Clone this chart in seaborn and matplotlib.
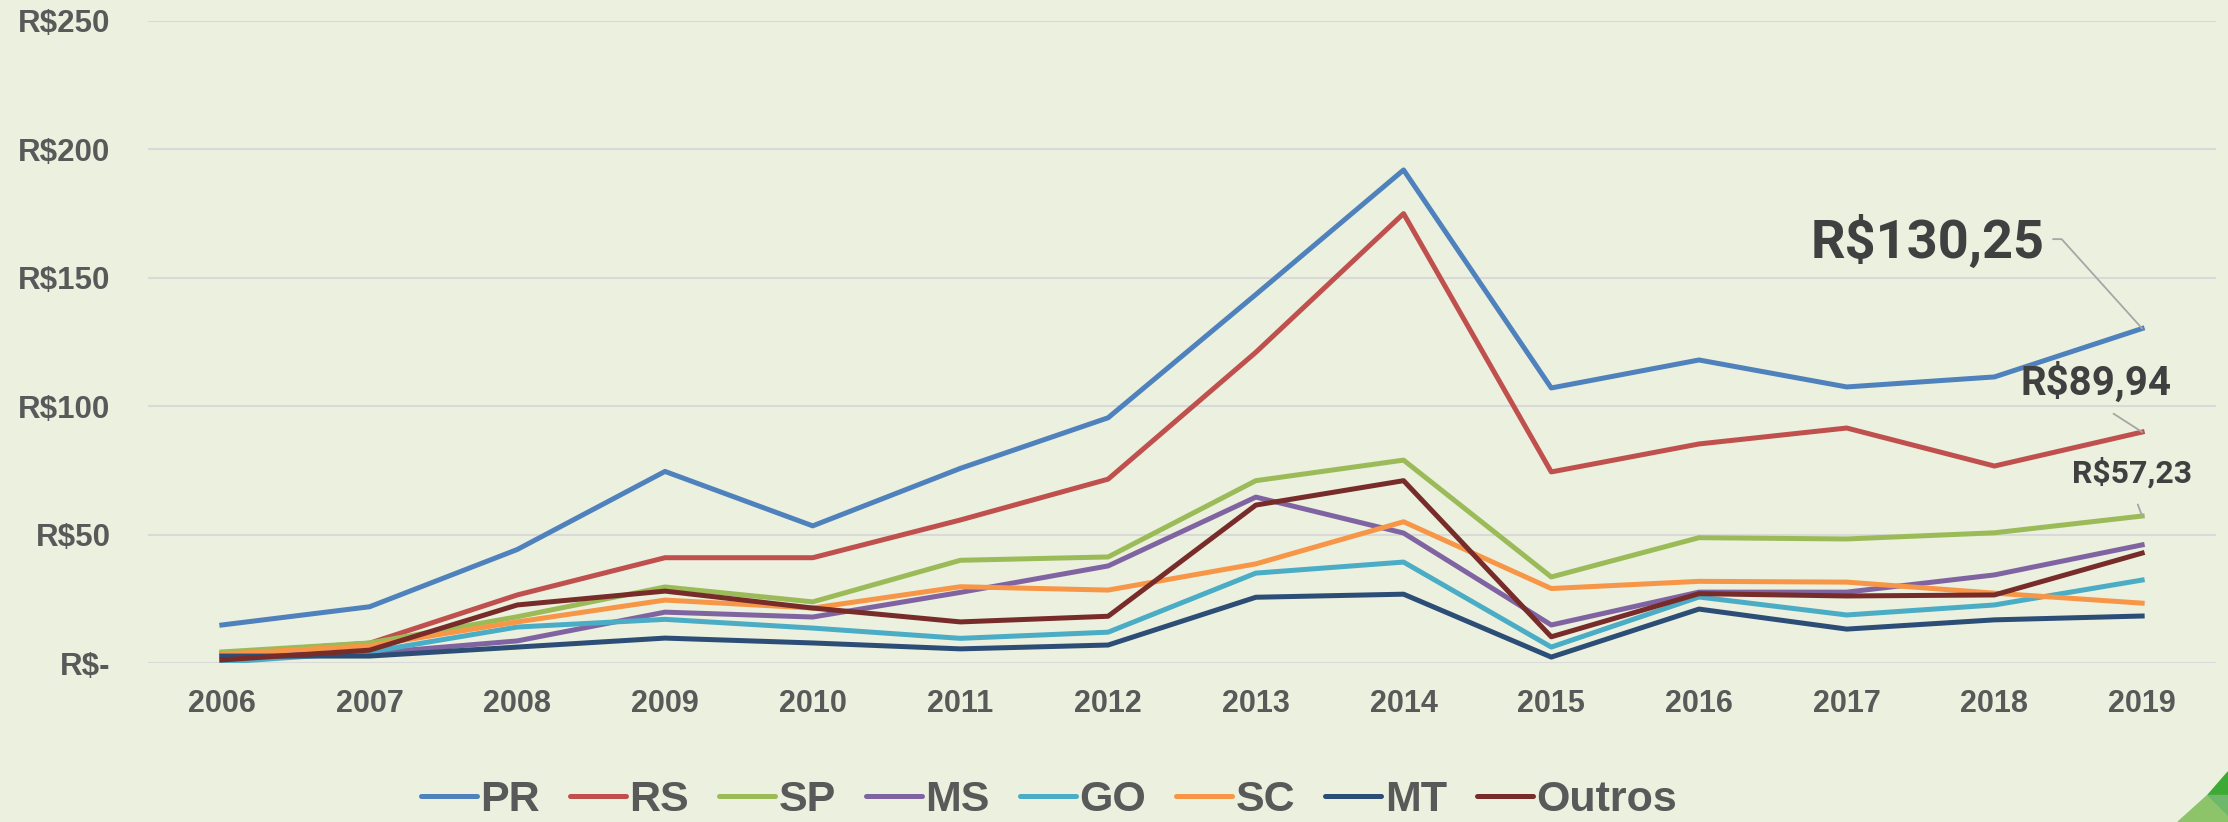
import matplotlib
matplotlib.use("Agg")
import matplotlib.pyplot as plt
import matplotlib.patches as mpatches
import seaborn as sns
import pandas as pd

anos = list(range(2006, 2020))
estados = ["PR", "RS", "SP", "MS", "GO", "SC", "MT", "Outros"]

pr = [14.8, 21.9, 44.2, 74.6, 53.4, 75.8, 95.5, 143.5, 192.0, 107.1, 118.0, 107.5, 111.4, 130.25]
rs = [3.8, 7.7, 26.5, 41.0, 41.0, 55.7, 71.6, 121.0, 175.0, 74.4, 85.3, 91.5, 76.7, 89.94]
sp = [4.3, 7.8, 18.0, 29.6, 23.8, 40.0, 41.3, 71.0, 79.0, 33.5, 48.8, 48.3, 50.7, 57.23]
ms = [3.0, 3.8, 8.6, 19.8, 17.9, 27.5, 37.8, 64.6, 50.6, 14.8, 27.6, 27.6, 34.3, 46.0]
go = [0.3, 4.3, 14.0, 17.0, 13.6, 9.6, 12.0, 35.0, 39.3, 6.2, 25.7, 18.7, 22.6, 32.3]
sc = [3.5, 6.7, 16.0, 24.5, 21.4, 29.7, 28.4, 38.6, 55.0, 29.0, 31.8, 31.5, 27.2, 23.3]
mt = [2.7, 2.7, 6.2, 9.7, 7.8, 5.5, 7.0, 25.6, 26.8, 2.3, 21.0, 13.2, 16.8, 18.3]
outros = [1.2, 5.0, 22.6, 28.0, 21.4, 16.0, 18.2, 61.5, 71.0, 10.2, 27.0, 26.1, 26.5, 42.8]

cores = {"PR": "#4F81BD", "RS": "#C0504D", "SP": "#9BBB59", "MS": "#8064A2",
         "GO": "#4BACC6", "SC": "#F79646", "MT": "#2C4D75", "Outros": "#772C2A"}

yticks = [0, 50, 100, 150, 200, 250]
ytick_labels = ["R$-", "R$50", "R$100", "R$150", "R$200", "R$250"]

rotulos = {"PR": "R$130,25", "RS": "R$89,94", "SP": "R$57,23"}

series = [pr, rs, sp, ms, go, sc, mt, outros]
df = pd.DataFrame({"Ano": anos * len(estados),
                   "Estado": [e for e in estados for _ in anos],
                   "Valor": [v for s in series for v in s]})

bg = "#EBF0DF"
cinza = "#595959"

fig = plt.figure(figsize=(22.28, 8.22), dpi=100, facecolor=bg)
ax = fig.add_axes([148 / 2228, 1 - 663 / 822, (2216 - 148) / 2228, (663 - 21) / 822])
ax.set_facecolor(bg)

sns.lineplot(data=df, x="Ano", y="Valor", hue="Estado", hue_order=estados,
             palette=cores, linewidth=3.6, ax=ax, legend=True)

ax.set_xlim(2005.5, 2019.5)
ax.set_ylim(0, 250)
ax.set_xticks(anos)
ax.set_xticklabels([str(a) for a in anos], fontsize=22, fontweight="bold",
                   color=cinza, family="Liberation Sans")
ax.set_yticks(yticks)
ax.set_yticklabels(ytick_labels, fontsize=22.5, fontweight="bold",
                   color=cinza, family="Liberation Sans")
ax.tick_params(axis="both", length=0)
ax.tick_params(axis="y", pad=27)
ax.tick_params(axis="x", pad=19)
ax.grid(axis="y", color="#D9D9D9", linewidth=1.5)
ax.set_axisbelow(True)
for s in ax.spines.values():
    s.set_visible(False)
ax.set_xlabel("")
ax.set_ylabel("")

# legenda embaixo
handles, labels = ax.get_legend_handles_labels()
ax.legend_.remove()
leg = fig.legend(handles, labels, loc="center", ncol=8,
                 bbox_to_anchor=(1049 / 2228, 1 - 800 / 822), bbox_transform=fig.transFigure,
                 frameon=False, handlelength=1.3, handletextpad=0.08, columnspacing=0.7,
                 borderpad=0, prop={"family": "Liberation Sans", "weight": "bold", "size": 31})
for t in leg.get_texts():
    t.set_color(cinza)
for h in leg.get_lines():
    h.set_linewidth(3.6)
    h.set_solid_capstyle("round")

# rótulos dos últimos valores
fonte_rot = "Roboto"
ax.annotate(rotulos["PR"], xy=(2019, pr[-1]), xytext=(2018.34, 164),
            ha="right", va="center", fontsize=39, fontweight="bold", color="#404040",
            family=fonte_rot,
            arrowprops=dict(arrowstyle="-", color="#A6A6A6", lw=1.3, shrinkA=4, shrinkB=0,
                            relpos=(1, 0.55), connectionstyle="angle,angleA=0,angleB=132,rad=0"))
ax.annotate(rotulos["RS"], xy=(2019, rs[-1]), xytext=(2018.69, 109.4),
            ha="center", va="center", fontsize=29, fontweight="bold", color="#404040",
            family=fonte_rot,
            arrowprops=dict(arrowstyle="-", color="#A6A6A6", lw=1.3, shrinkA=11, shrinkB=0,
                            relpos=(0.5, 0)))
ax.annotate(rotulos["SP"], xy=(2019, sp[-1]), xytext=(2018.93, 74),
            ha="center", va="center", fontsize=23, fontweight="bold", color="#404040",
            family=fonte_rot,
            arrowprops=dict(arrowstyle="-", color="#A6A6A6", lw=1.3, shrinkA=10, shrinkB=0,
                            relpos=(0.5, 0)))

# detalhe verde no canto
W, H = 2228, 822
def px(p):
    return [(x / W, 1 - y / H) for x, y in p]
fig.patches.append(mpatches.Polygon(px([(2178, 822), (2208, 795), (2228, 795), (2228, 822)]),
                                    closed=True, color="#8DC46A", transform=fig.transFigure))
fig.patches.append(mpatches.Polygon(px([(2208, 795), (2228, 772), (2228, 795)]),
                                    closed=True, color="#3DAA35", transform=fig.transFigure))
fig.patches.append(mpatches.Polygon(px([(2208, 795), (2228, 795), (2228, 815)]),
                                    closed=True, color="#6DB86B", transform=fig.transFigure))

fig.savefig("out.png", dpi=100, facecolor=bg)
